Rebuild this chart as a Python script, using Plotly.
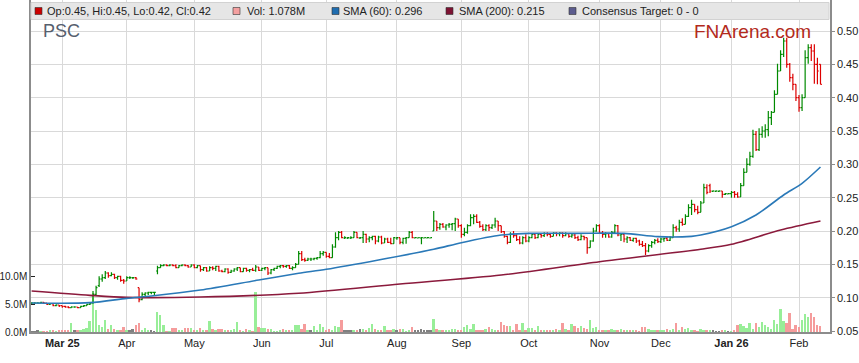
import pandas as pd
import plotly.graph_objects as go

# ---------------- data ----------------
opens = [
    .0915, .092, .092, .092, .093, .092, .090, .091, .088, .089,
    .088, .087, .086, .085, .086, .086, .085, .087, .088, .090,
    .092, .105, .118, .128, .130, .137, .133, .135, .130, .132,
    .126, .125, .130, .130, .130, .115, .097, .105, .107, .108,
    .108, .140, .145, .148, .149, .148, .149, .148, .145, .148,
    .149, .148, .146, .149, .145, .148, .142, .145, .140, .145,
    .144, .147, .140, .139, .143, .138, .140, .143, .145, .139,
    .144, .141, .142, .141, .146, .141, .144, .145, .137, .142,
    .144, .147, .148, .147, .148, .144, .145, .150, .166, .157,
    .156, .158, .158, .159, .160, .166, .168, .162, .160, .176,
    .190, .198, .1895, .1895, .1895, .190, .198, .1895, .190, .195,
    .188, .190, .192, .185, .191, .182, .188, .183, .181, .1895,
    .190, .183, .189, .190, .198, .1895, .1895, .1895, .1895, .1895,
    .1895, .200, .215, .205, .210, .206, .209, .210, .211, .218,
    .208, .195, .198, .208, .220, .222, .213, .207, .202, .208,
    .205, .209, .215, .208, .199, .192, .183, .195, .193, .187,
    .182, .190, .185, .190, .195, .190, .195, .193, .196, .195,
    .192, .197, .196, .197, .193, .196, .192, .194, .190, .187,
    .192, .190, .175, .185, .200, .208, .197, .195, .196, .191,
    .198, .208, .194, .195, .188, .190, .186, .189, .185, .180,
    .178, .170, .178, .183, .186, .184, .188, .189, .186, .190,
    .205, .203, .213, .210, .222, .235, .240, .232, .228, .242,
    .265, .268, .2595, .2595, .2595, .260, .255, .2555, .256, .258,
    .255, .251, .268, .288, .300, .312, .345, .322, .345, .350,
    .352, .370, .378, .405, .440, .465, .485, .450, .430, .420,
    .400, .385, .400, .460, .475, .470, .450, .450,
]
highs = [
    .093, .093, .093, .094, .093, .092, .092, .091, .090, .089,
    .088, .088, .087, .087, .087, .086, .088, .089, .091, .092,
    .110, .118, .132, .135, .140, .138, .138, .136, .133, .133,
    .128, .132, .132, .131, .131, .115, .108, .108, .109, .109,
    .109, .148, .150, .150, .150, .150, .150, .150, .149, .150,
    .150, .149, .150, .150, .149, .148, .146, .146, .147, .147,
    .148, .148, .142, .144, .144, .142, .144, .146, .145, .145,
    .145, .143, .145, .149, .146, .145, .146, .145, .143, .145,
    .148, .149, .149, .149, .149, .147, .152, .170, .170, .160,
    .160, .160, .160, .161, .170, .170, .168, .167, .180, .198,
    .200, .200, .192, .191, .192, .200, .198, .191, .200, .196,
    .192, .193, .193, .193, .193, .190, .190, .190, .191, .191,
    .190, .190, .191, .200, .200, .191, .190, .191, .190, .191,
    .190, .230, .215, .212, .212, .210, .212, .212, .220, .218,
    .210, .205, .210, .225, .225, .225, .215, .210, .210, .210,
    .210, .220, .215, .208, .200, .193, .198, .200, .195, .192,
    .192, .195, .192, .197, .197, .196, .196, .198, .198, .197,
    .198, .198, .198, .198, .198, .197, .196, .197, .193, .195,
    .193, .190, .186, .205, .210, .210, .200, .198, .197, .200,
    .210, .209, .197, .196, .192, .191, .190, .190, .187, .185,
    .182, .180, .185, .188, .189, .190, .190, .191, .192, .210,
    .208, .217, .219, .225, .240, .247, .240, .238, .245, .271,
    .270, .271, .261, .261, .261, .260, .257, .257, .260, .260,
    .258, .272, .294, .309, .319, .352, .350, .354, .357, .360,
    .380, .380, .411, .451, .471, .490, .490, .452, .436, .420,
    .404, .405, .471, .480, .480, .480, .460, .450,
]
lows = [
    .091, .091, .092, .092, .091, .089, .089, .087, .087, .086,
    .085, .085, .084, .085, .085, .084, .085, .086, .088, .089,
    .091, .104, .116, .124, .128, .130, .132, .128, .127, .124,
    .121, .125, .128, .128, .127, .093, .096, .100, .104, .105,
    .104, .135, .145, .147, .147, .147, .147, .144, .145, .147,
    .147, .145, .146, .144, .144, .139, .140, .139, .140, .141,
    .140, .139, .138, .138, .136, .137, .139, .140, .138, .139,
    .139, .138, .140, .139, .140, .140, .141, .134, .135, .140,
    .143, .144, .145, .145, .143, .141, .145, .150, .155, .154,
    .155, .155, .156, .157, .159, .163, .160, .159, .160, .175,
    .186, .189, .188, .188, .188, .190, .189, .188, .182, .182,
    .183, .186, .180, .183, .180, .182, .182, .180, .181, .187,
    .180, .180, .181, .190, .189, .189, .189, .180, .189, .189,
    .189, .200, .200, .202, .205, .201, .205, .201, .200, .205,
    .190, .192, .196, .207, .210, .212, .205, .200, .200, .200,
    .203, .205, .200, .197, .190, .180, .182, .190, .185, .180,
    .180, .183, .183, .189, .188, .189, .190, .191, .192, .190,
    .192, .192, .192, .190, .192, .190, .190, .188, .185, .186,
    .186, .166, .175, .184, .199, .196, .190, .190, .190, .190,
    .197, .192, .185, .183, .182, .185, .184, .182, .178, .176,
    .164, .168, .175, .180, .182, .182, .184, .185, .185, .190,
    .199, .199, .208, .210, .221, .224, .228, .225, .228, .242,
    .255, .257, .259, .259, .259, .250, .254, .255, .250, .250,
    .250, .251, .268, .288, .298, .310, .320, .320, .340, .340,
    .342, .359, .378, .405, .440, .461, .445, .424, .411, .395,
    .379, .380, .400, .451, .455, .421, .420, .420,
]
closes = [
    .092, .092, .092, .093, .092, .090, .091, .088, .089, .088,
    .087, .086, .085, .086, .086, .085, .087, .088, .090, .091,
    .105, .115, .128, .130, .137, .133, .135, .130, .132, .126,
    .125, .130, .130, .130, .128, .097, .105, .107, .108, .108,
    .108, .145, .148, .149, .148, .149, .148, .145, .148, .149,
    .148, .146, .149, .145, .148, .142, .145, .140, .145, .144,
    .147, .140, .139, .143, .138, .140, .143, .145, .139, .144,
    .141, .142, .141, .146, .141, .144, .145, .137, .142, .144,
    .147, .148, .147, .148, .144, .145, .150, .166, .157, .156,
    .158, .158, .159, .160, .166, .168, .162, .160, .176, .190,
    .198, .190, .190, .190, .190, .198, .190, .190, .195, .188,
    .190, .192, .185, .191, .182, .188, .183, .181, .190, .190,
    .183, .189, .190, .198, .190, .190, .190, .190, .190, .190,
    .190, .215, .205, .210, .206, .209, .210, .211, .218, .208,
    .195, .198, .208, .220, .222, .213, .207, .202, .208, .205,
    .209, .215, .208, .199, .192, .183, .195, .193, .187, .182,
    .190, .185, .190, .195, .190, .195, .193, .196, .195, .192,
    .197, .196, .197, .193, .196, .192, .194, .190, .187, .192,
    .190, .175, .185, .200, .208, .197, .195, .196, .191, .198,
    .208, .194, .195, .188, .190, .186, .189, .185, .180, .178,
    .170, .178, .183, .186, .184, .188, .189, .186, .190, .205,
    .203, .213, .210, .222, .235, .240, .232, .228, .242, .265,
    .258, .260, .260, .260, .260, .255, .256, .256, .258, .255,
    .251, .268, .288, .300, .312, .345, .322, .345, .350, .352,
    .370, .378, .405, .440, .465, .485, .450, .430, .420, .400,
    .385, .400, .460, .475, .470, .450, .440, .420,
]
volume_m = [
    0.15, 0.1, 0.2, 0.1, 0.15, 0.1, 0.2, 0.2, 0.1, 0.36,
    0.2, 0.4, 0.2, 1.6, 0.3, 0.2, 0.2, 0.5, 0.7, 1.9,
    7.0, 3.9, 1.3, 0.9, 2.2, 0.5, 1.3, 0.6, 0.3, 0.3,
    0.85, 0.3, 0.2, 0.5, 1.3, 1.6, 0.3, 0.7, 0.3, 0.3,
    0.1, 3.6, 3.1, 1.2, 0.1, 0.1, 0.7, 0.7, 0.3, 0.3,
    0.7, 0.7, 0.7, 0.2, 0.3, 0.8, 0.2, 0.4, 1.9, 0.55,
    0.3, 0.6, 0.55, 0.3, 0.3, 0.2, 0.5, 1.75, 0.2, 0.1,
    0.6, 0.2, 0.1, 7.3, 0.85, 0.7, 0.7, 0.5, 0.5, 0.1,
    0.1, 0.3, 0.6, 0.2, 0.3, 0.2, 1.2, 1.3, 0.5, 1.4,
    0.3, 0.4, 1.0, 0.2, 1.4, 0.9, 0.2, 0.6, 0.3, 1.1,
    0.9, 2.2, 0.3, 0.3, 0.3, 0.3, 0.4, 0.5, 0.6, 0.4,
    0.7, 1.4, 0.6, 0.2, 0.2, 1.0, 0.2, 0.3, 0.5, 0.3,
    0.6, 0.5, 0.1, 0.3, 0.9, 0.4, 0.2, 0.6, 0.4, 0.2,
    0.2, 2.4, 0.6, 0.4, 0.3, 0.2, 0.2, 0.5, 0.5, 0.3,
    0.4, 0.9, 1.2, 0.6, 1.4, 0.4, 0.3, 0.2, 0.6, 0.9,
    0.5, 0.3, 0.3, 1.8, 1.2, 1.1, 1.1, 0.3, 1.4, 0.3,
    1.6, 0.2, 0.7, 0.7, 0.2, 1.0, 0.2, 0.2, 0.2, 0.3,
    0.3, 0.6, 0.2, 1.6, 0.6, 0.3, 1.4, 1.1, 0.7, 1.1,
    0.7, 0.5, 2.1, 0.7, 0.9, 0.2, 0.2, 0.4, 0.3, 0.5,
    0.4, 0.2, 0.6, 0.2, 0.2, 0.2, 0.2, 0.2, 0.1, 0.9,
    0.9, 0.6, 0.3, 0.3, 0.2, 0.3, 0.2, 0.5, 0.4, 0.6,
    1.6, 0.3, 0.9, 0.5, 0.8, 0.2, 0.2, 0.1, 0.5, 0.3,
    0.3, 0.3, 0.2, 0.05, 0.05, 0.3, 0.2, 0.05, 0.05, 0.3,
    1.2, 1.45, 1.15, 0.7, 1.6, 0.6, 1.6, 0.9, 1.8, 1.2,
    0.9, 0.5, 2.2, 1.4, 4.2, 2.0, 1.6, 3.5, 0.5, 1.2,
    0.9, 2.1, 3.3, 2.7, 3.5, 2.7, 1.2, 1.078,
]
# moving averages (bar index -> value)
sma60_idx = [0, 19, 31, 39, 55, 74, 87, 96, 113, 131, 140, 153, 162, 177,
             193, 204, 215, 218, 228, 236, 245, 251, 257]
sma60_val = [0.092, 0.0925, 0.099, 0.1025, 0.1115, 0.1265, 0.1365, 0.1425,
             0.1565, 0.1725, 0.1825, 0.194, 0.1965, 0.1965, 0.1965, 0.1915,
             0.192, 0.194, 0.2065, 0.224, 0.254, 0.2715, 0.296]
sma200_idx = [0, 19, 31, 55, 87, 120, 153, 185, 218, 228, 244, 257]
sma200_val = [0.110, 0.1035, 0.1005, 0.101, 0.1066, 0.1205, 0.134, 0.154,
              0.1726, 0.180, 0.2015, 0.215]

month_ticks = ["2025-03-03", "2025-04-01", "2025-05-01", "2025-06-02",
               "2025-07-01", "2025-08-01", "2025-09-01", "2025-10-01",
               "2025-11-03", "2025-12-01", "2026-01-01", "2026-02-02"]
month_labels = ["<b>Mar 25</b>", "Apr", "May", "Jun", "Jul", "Aug", "Sep",
                "Oct", "Nov", "Dec", "<b>Jan 26</b>", "Feb"]
price_ticks = [0.05, 0.10, 0.15, 0.20, 0.25, 0.30, 0.35, 0.40, 0.45, 0.50]
vol_ticks = [0, 5e6, 10e6]
vol_labels = ["0.0M", "5.0M", "10.0M"]

legend_items = [
    ("Op:0.45, Hi:0.45, Lo:0.42, Cl:0.42", "#cc0000"),
    ("Vol: 1.078M", "#f4a0a0"),
    ("SMA (60): 0.296", "#1f6db0"),
    ("SMA (200): 0.215", "#7d1232"),
    ("Consensus Target: 0 - 0", "#5c5c8e"),
]

# ---------------- figure ----------------
dates = pd.bdate_range("2025-02-17", periods=len(closes))

GREEN_V, PINK_V, GRAY_V = "#98ee98", "#f59c9c", "#808080"
vol_colors = []
for k, c in enumerate(closes):
    if k == 0 or c == closes[k - 1]:
        vol_colors.append(GRAY_V)
    elif c > closes[k - 1]:
        vol_colors.append(GREEN_V)
    else:
        vol_colors.append(PINK_V)

W, H = 859, 363
ML, MR, MT, MB = 31, 29, 0, 31
PW, PH = W - ML - MR, H - MT - MB


def px(x):
    return (x - ML) / PW


def py(y):
    return 1 - (y - MT) / PH


FONT = "Arial, Liberation Sans, sans-serif"

fig = go.Figure()
fig.add_trace(go.Bar(
    x=dates, y=[v * 1e6 for v in volume_m], marker_color=vol_colors,
    marker_line_width=0, width=0.62 * 86400000, yaxis="y", showlegend=False,
))
fig.add_trace(go.Scatter(
    x=[dates[i] for i in sma200_idx], y=sma200_val, mode="lines",
    line=dict(color="#8b1a3c", width=1.6, shape="spline", smoothing=0.8),
    yaxis="y2", showlegend=False,
))
fig.add_trace(go.Scatter(
    x=[dates[i] for i in sma60_idx], y=sma60_val, mode="lines",
    line=dict(color="#2a79b8", width=1.6, shape="spline", smoothing=0.8),
    yaxis="y2", showlegend=False,
))
fig.add_trace(go.Ohlc(
    x=dates, open=opens, high=highs, low=lows, close=closes,
    increasing_line_color="#008a00", decreasing_line_color="#dd0000",
    line_width=1.2, tickwidth=0.45, yaxis="y2", showlegend=False,
))

shapes = [dict(type="rect", xref="paper", yref="paper",
               x0=px(31), x1=px(829), y0=py(19.5), y1=py(2.5),
               fillcolor="#e6e6e6", line=dict(color="#d2d2d2", width=1),
               layer="above")]
annotations = []
sq_x = [35, 233, 332, 446, 569]
txt_x = [45, 245, 341, 457, 580]
for (label, col), sx, tx in zip(legend_items, sq_x, txt_x):
    shapes.append(dict(type="rect", xref="paper", yref="paper",
                       x0=px(sx), x1=px(sx + 7), y0=py(14.5), y1=py(7.5),
                       fillcolor=col, line=dict(color="#333333", width=0.6),
                       layer="above"))
    annotations.append(dict(text=label, xref="paper", yref="paper",
                            x=px(tx), y=py(11), xanchor="left", yanchor="middle",
                            showarrow=False,
                            font=dict(family=FONT, size=11, color="#222222")))
annotations.append(dict(text="PSC", xref="paper", yref="paper", x=px(41), y=py(31.5),
                        xanchor="left", yanchor="middle", showarrow=False,
                        font=dict(family=FONT, size=18, color="#56606e")))
annotations.append(dict(text="FNArena.com", xref="paper", yref="paper", x=px(692),
                        y=py(32), xanchor="left", yanchor="middle", showarrow=False,
                        font=dict(family=FONT, size=19, color="#b32a1c")))

fig.update_layout(
    width=W, height=H, margin=dict(l=ML, r=MR, t=MT, b=MB, autoexpand=False),
    paper_bgcolor="white", plot_bgcolor="white", bargap=0,
    showlegend=False, hovermode=False,
    font=dict(family=FONT, size=11, color="#222222"),
    xaxis=dict(
        type="date", rangebreaks=[dict(bounds=["sat", "mon"])],
        range=["2025-02-14 19:12", "2026-02-16 02:24"],
        tickmode="array", tickvals=month_ticks, ticktext=month_labels,
        showgrid=True, gridcolor="#d9d9d9", gridwidth=1,
        showline=True, linecolor="#8c8c8c", linewidth=1.5,
        ticks="", rangeslider=dict(visible=False), automargin=False,
        tickfont=dict(family=FONT, size=11, color="#222222"), zeroline=False,
    ),
    yaxis=dict(
        side="left", range=[0, 60e6], tickmode="array", tickvals=vol_ticks,
        ticktext=vol_labels, showgrid=False, zeroline=False, automargin=False,
        showline=True, linecolor="#8c8c8c", linewidth=1.5,
        ticks="inside", ticklen=4, tickcolor="#222222",
        tickfont=dict(family=FONT, size=10, color="#222222"),
    ),
    yaxis2=dict(
        overlaying="y", side="right", range=[0.0485, 0.5465], automargin=False,
        tickmode="array", tickvals=price_ticks, tickformat=".2f",
        showgrid=True, gridcolor="#d9d9d9", gridwidth=1, zeroline=False,
        showline=True, linecolor="#8c8c8c", linewidth=1.5,
        ticks="outside", ticklen=3, tickcolor="#8c8c8c",
        tickfont=dict(family=FONT, size=11, color="#222222"),
    ),
    shapes=shapes, annotations=annotations,
)

fig.write_html(
    "out.html",
    config={"displayModeBar": False},
    post_script="document.body.style.margin='0px';",
)
